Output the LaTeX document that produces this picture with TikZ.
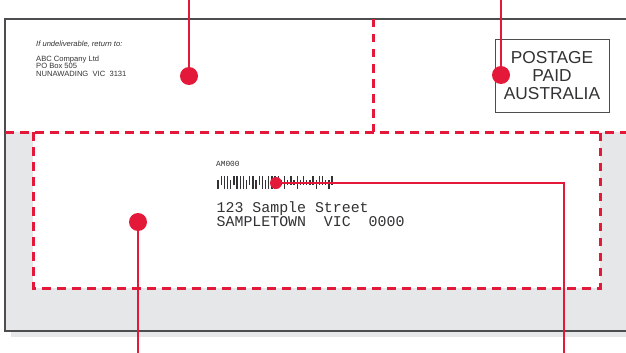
\documentclass[tikz,border=0pt]{standalone}
\usepackage{fontspec}
\setmainfont{Liberation Sans}
\newfontfamily\monof{Liberation Mono}
\definecolor{cred}{RGB}{228,24,56}
\definecolor{cgray}{RGB}{230,231,232}
\definecolor{cdark}{RGB}{77,77,79}
\definecolor{ctext}{RGB}{50,50,52}
\begin{document}
\begin{tikzpicture}[x=1pt,y=-1pt,
  dot/.style={circle,fill=cred,inner sep=0pt,minimum size=18pt},
  smalldot/.style={circle,fill=cred,inner sep=0pt,minimum size=12pt},
  lead/.style={draw=cred,line width=1.4pt},
  zone/.style={draw=cred,line width=3pt,dash pattern=on 8.5pt off 6.5pt},
  edge/.style={draw=cdark,line width=1.8pt},
  rtext/.style={anchor=base west,inner sep=0pt,text=ctext,font=\fontsize{7.6}{8}\selectfont},
  mtext/.style={anchor=base west,inner sep=0pt,text=ctext,font=\monof\fontsize{14.9}{15}\selectfont},
  bar/.style={draw=ctext,line width=1.3pt}]
\useasboundingbox (0,0) rectangle (626,353);
% grey band and clear zone
\fill[cgray] (5,132) rectangle (626,331);
\fill[cgray] (11,331) rectangle (626,337);
\fill[white] (33,132) rectangle (600,288);
% envelope edge
\draw[edge] (626,19) -- (5,19) -- (5,331) -- (626,331);
% dashed zones
\draw[zone] (5,132) -- (626,132);
\draw[zone] (373,19) -- (373,132);
\draw[zone] (33,132) -- (33,288) -- (600,288) -- (600,132);
% return address
\node[rtext,font=\itshape\fontsize{7.6}{8}\selectfont] (ret) at (36,47) {If undeliverable, return to:};
\node[rtext] (ret1) at (36,61) {ABC Company Ltd};
\node[rtext] (ret2) at (36,68.5) {PO Box 505};
\node[rtext] (ret3) at (36,76) {NUNAWADING\ \ VIC\ \ 3131};
% postage box
\node[draw=cdark,line width=0.9pt,minimum width=114pt,minimum height=73pt,inner sep=0pt,
      align=center,text=ctext,font=\fontsize{17.3}{18}\selectfont] (post) at (552,75.5)
      {POSTAGE\\PAID\\AUSTRALIA};
% delivery address
\node[anchor=base west,inner sep=0pt,text=ctext,font=\monof\fontsize{7.8}{8}\selectfont] (am) at (216,166.7) {AM000};
\foreach \t/\b [count=\i] in {180/189,176/185,176/189,176/189,180/189,176/185,176/189,176/189,176/189,180/189,176/185,176/189,180/189,176/185,176/189,180/189,176/189,176/189,176/189,176/185,180/185,176/189,180/185,176/185,180/185,176/189,180/185,176/185,180/185,180/185,176/185,180/189,176/185,176/185,180/185,180/189,176/185}
  \draw[bar] ({218+(\i-1)*3.17},\t) -- ({218+(\i-1)*3.17},\b);
\node[mtext] (addr1) at (216.5,212) {123 Sample Street};
\node[mtext] (addr2) at (216.5,226) {SAMPLETOWN\ \ VIC\ \ 0000};
% callout dots
\node[dot] (d1) at (189,76) {};
\node[dot] (d2) at (501,75) {};
\node[dot] (d3) at (138,222) {};
\node[smalldot] (d4) at (276,183) {};
\coordinate (c1) at (189,0);
\coordinate (c2) at (501,0);
\coordinate (c3) at (138,353);
\coordinate (c4) at (564,353);
\draw[lead] (d1) -- (c1);
\draw[lead] (d2) -- (c2);
\draw[lead] (d3) -- (c3);
\draw[lead] (d4) -| (c4);
\end{tikzpicture}
\end{document}
